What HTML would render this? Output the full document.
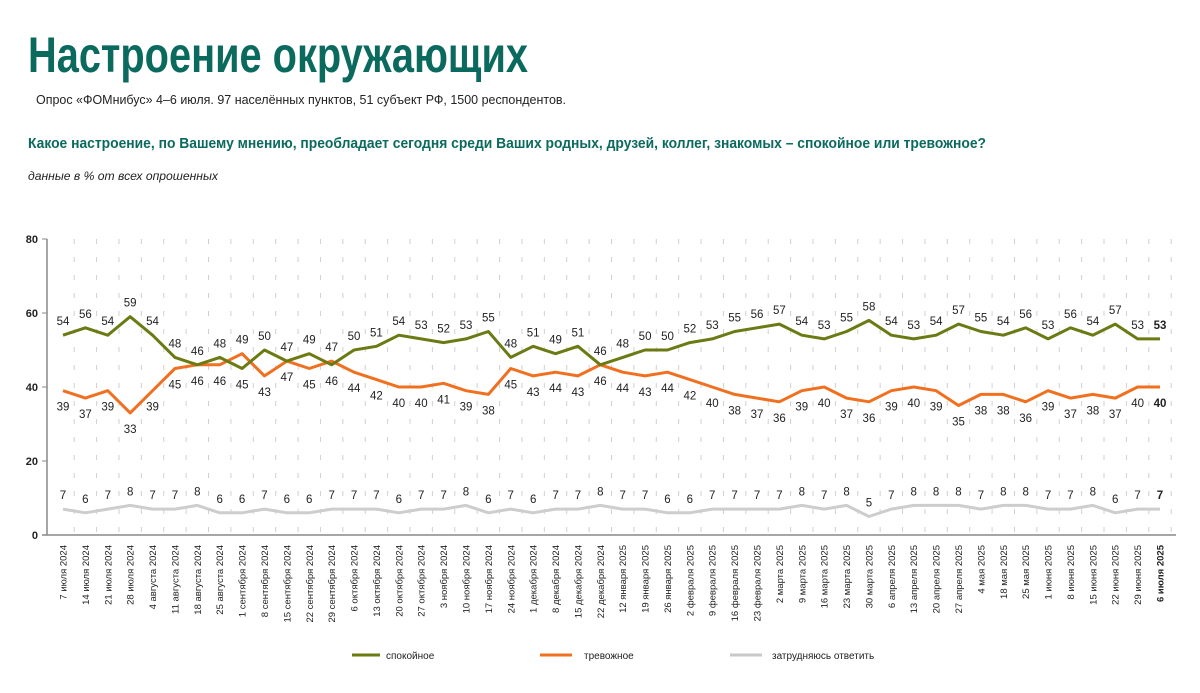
<!DOCTYPE html>
<html><head><meta charset="utf-8"><style>
body{margin:0;background:#fff;}
svg{display:block;font-family:"Liberation Sans",sans-serif;}
</style></head><body>
<svg id="chart" width="1200" height="693" viewBox="0 0 1200 693">
<text x="28" y="72" font-size="50" font-weight="bold" fill="#0b6a5e" textLength="500" lengthAdjust="spacingAndGlyphs">Настроение окружающих</text>
<text x="36" y="104" font-size="13" fill="#222" textLength="530" lengthAdjust="spacingAndGlyphs">Опрос «ФОМнибус» 4–6 июля. 97 населённых пунктов, 51 субъект РФ, 1500 респондентов.</text>
<text x="28" y="148" font-size="15" font-weight="bold" fill="#0b6a5e" textLength="958" lengthAdjust="spacingAndGlyphs">Какое настроение, по Вашему мнению, преобладает сегодня среди Ваших родных, друзей, коллег, знакомых – спокойное или тревожное?</text>
<text x="28" y="180" font-size="12" font-style="italic" fill="#222" textLength="190" lengthAdjust="spacingAndGlyphs">данные в % от всех опрошенных</text>
<g id="grid"></g><g id="axes"></g><g id="lines"></g><g id="labels"></g>
<g>
<line x1="352" y1="655" x2="380" y2="655" stroke="#6b7a12" stroke-width="3"/>
<text x="386" y="659" font-size="10" fill="#222">спокойное</text>
<line x1="540" y1="655" x2="572" y2="655" stroke="#f07020" stroke-width="3"/>
<text x="584" y="659" font-size="10" fill="#222">тревожное</text>
<line x1="730" y1="655" x2="762" y2="655" stroke="#c8c8c8" stroke-width="3"/>
<text x="772" y="659" font-size="10" fill="#222">затрудняюсь ответить</text>
</g>
</svg>
<script>
const categories=["7 июля 2024","14 июля 2024","21 июля 2024","28 июля 2024","4 августа 2024","11 августа 2024","18 августа 2024","25 августа 2024","1 сентября 2024","8 сентября 2024","15 сентября 2024","22 сентября 2024","29 сентября 2024","6 октября 2024","13 октября 2024","20 октября 2024","27 октября 2024","3 ноября 2024","10 ноября 2024","17 ноября 2024","24 ноября 2024","1 декабря 2024","8 декабря 2024","15 декабря 2024","22 декабря 2024","12 января 2025","19 января 2025","26 января 2025","2 февраля 2025","9 февраля 2025","16 февраля 2025","23 февраля 2025","2 марта 2025","9 марта 2025","16 марта 2025","23 марта 2025","30 марта 2025","6 апреля 2025","13 апреля 2025","20 апреля 2025","27 апреля 2025","4 мая 2025","18 мая 2025","25 мая 2025","1 июня 2025","8 июня 2025","15 июня 2025","22 июня 2025","29 июня 2025","6 июля 2025"];
const calm=[54,56,54,59,54,48,46,48,45,50,47,49,46,50,51,54,53,52,53,55,48,51,49,51,46,48,50,50,52,53,55,56,57,54,53,55,58,54,53,54,57,55,54,56,53,56,54,57,53,53];
const anxious=[39,37,39,33,39,45,46,46,49,43,47,45,47,44,42,40,40,41,39,38,45,43,44,43,46,44,43,44,42,40,38,37,36,39,40,37,36,39,40,39,35,38,38,36,39,37,38,37,40,40];
const hardToSay=[7,6,7,8,7,7,8,6,6,7,6,6,7,7,7,6,7,7,8,6,7,6,7,7,8,7,7,6,6,7,7,7,7,8,7,8,5,7,8,8,8,7,8,8,7,7,8,6,7,7];
const yTicks=[0,20,40,60,80];
const NS="http://www.w3.org/2000/svg";
const X0=63,X1=1160,Y0=535,Y80=239;
const n=categories.length;
const x=i=>X0+i*(X1-X0)/(n-1);
const y=v=>Y0+(Y80-Y0)*v/80;
function mk(tag,attrs,parent){const e=document.createElementNS(NS,tag);for(const k in attrs)e.setAttribute(k,attrs[k]);document.getElementById(parent).appendChild(e);return e;}
const step=(X1-X0)/(n-1);
for(let i=0;i<n;i++){
  const g=mk('line',{x1:x(i)+step/2,x2:x(i)+step/2,y1:Y80,y2:Y0,stroke:'#d0d0d0','stroke-width':1,'stroke-dasharray':'5,13'},'grid');
  
  
  const t=mk('text',{transform:`translate(${x(i)+3.5},545) rotate(-90)`,'text-anchor':'end','font-size':'9.5','font-weight':i===n-1?'bold':'normal',fill:'#222'},'axes');
  t.textContent=categories[i];
  
  
}
const ya=mk('line',{x1:47,x2:47,y1:Y80,y2:Y0,stroke:'#888','stroke-width':1.5},'axes');


const xa=mk('line',{x1:42,x2:1176,y1:Y0,y2:Y0,stroke:'#888','stroke-width':1.5},'axes');


yTicks.forEach(v=>{
  mk('line',{x1:42,x2:47,y1:y(v),y2:y(v),stroke:'#888'},'axes');
  const t=mk('text',{x:38,y:y(v)+4,'text-anchor':'end','font-size':'11','font-weight':'bold',fill:'#222'},'axes');
  t.textContent=v;
  
  
});
function series(vals,color,name,w){
  const p=mk('polyline',{points:vals.map((v,i)=>x(i)+','+y(v)).join(' '),fill:'none',stroke:color,'stroke-width':w,'stroke-linejoin':'round'},'lines');
  
  
}
series(hardToSay,'#cdcdcd','hard-to-say-line',3);
series(anxious,'#f07020','anxious-line',3);
series(calm,'#6b7a12','calm-line',3);
function lbl(i,v,dy,name){
  const t=mk('text',{x:x(i),y:y(v)+dy,'text-anchor':'middle','font-size':'11.5','font-weight':i===n-1?'bold':'normal',fill:'#222'},'labels');
  t.textContent=v;
  
  
}
for(let i=0;i<n;i++){
  const calmUp=calm[i]>=anxious[i];
  lbl(i,calm[i],calmUp?-10:20,'calm-value');
  lbl(i,anxious[i],calmUp?20:-10,'anxious-value');
  lbl(i,hardToSay[i],-10,'hard-to-say-value');
}
</script>
</body></html>
